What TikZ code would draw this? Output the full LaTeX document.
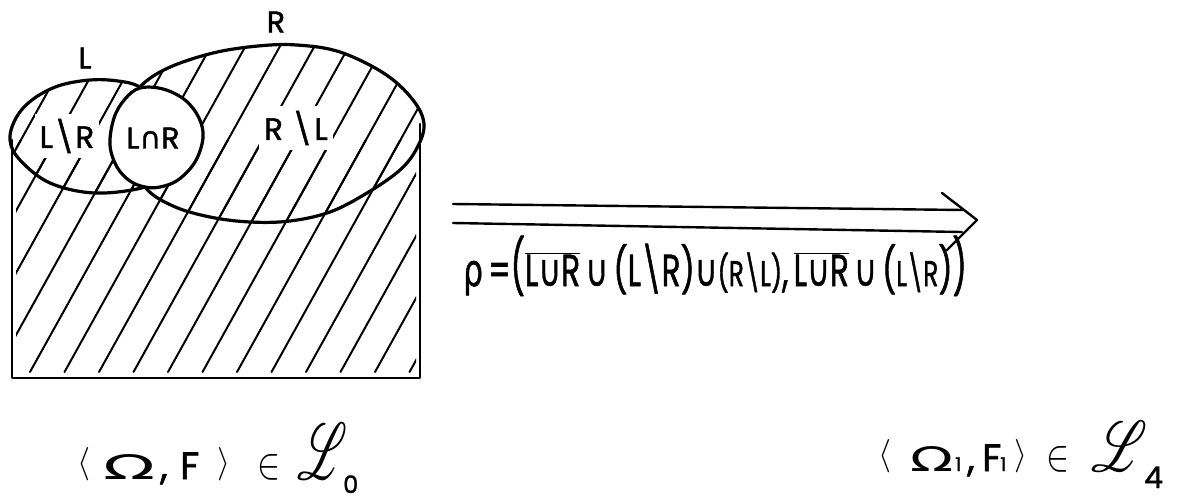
\documentclass[tikz,border=0pt]{standalone}
\usepackage{fontspec}
\usepackage{mathrsfs}
\setmainfont{Poppins}[FakeBold=1.5]
\newfontfamily\symfont{DejaVu Sans}[FakeBold=1]
\newfontfamily\omegafont{DejaVu Sans}
\newcommand\Lpathspec{plot coordinates {(140,87) (172,108) (178,140) (165,172) (145,187) (95,193) (50,183) (20,160) (10,140) (16,118) (32,100) (58,86) (90,80) (118,81)}}
\newcommand\Rpathspec{plot coordinates {(140,87) (168,68) (213,53) (258,46) (297,45) (340,52) (385,74) (413,100) (424,124) (417,148) (400,170) (367,193) (330,212) (290,221) (250,222) (210,217) (173,206) (145,187) (128,150) (128,112)}}
\newcommand\Bpathspec{plot coordinates {(140,88) (163,89) (185,100) (199,118) (203,138) (195,162) (178,180) (160,187) (145,187) (130,181) (117,167) (110,145) (114,118) (125,99)}}
\newcommand\hatchset{\foreach \k in {-6,...,12} \draw[hatchline] ({30+34.5*\k},372) -- ++(190,-342);}
\newcommand\angL{\raisebox{7pt}{\resizebox{13pt}{25pt}{$\langle$}}}
\newcommand\angR{\raisebox{7pt}{\resizebox{13pt}{25pt}{$\rangle$}}}
\newcommand\elem{\raisebox{1pt}{\resizebox{23pt}{24pt}{$\in$}}}
\newcommand\scrL[2]{\resizebox{#1}{#2}{$\mathscr{L}$}}
\newcommand\pc[2]{\makebox[#1][l]{#2}}
\begin{document}
\begin{tikzpicture}[x=1pt,y=-1pt,smooth cycle,tension=0.6,
  outline/.style={line width=3.2pt,line join=round,line cap=round},
  hatchline/.style={line width=2pt,line cap=round},
  boxline/.style={line width=2.6pt,line join=round,line cap=round},
  arrowline/.style={line width=2.4pt,line cap=round,line join=round},
  setlabel/.style={font=\fontsize{30}{30}\selectfont,inner sep=1pt},
  gaplabel/.style={setlabel,fill=white,inner sep=5pt},
  exprtext/.style={font=\fontsize{38}{38}\selectfont,inner sep=0pt}
]
\useasboundingbox (0,0) rectangle (1177,501);
\fill[white] (0,0) rectangle (1177,501);
% hatching in rect, L and R
\begin{scope}
  \clip (16,140) rectangle (416,372);
  \hatchset
\end{scope}
\begin{scope}
  \clip \Lpathspec;
  \hatchset
\end{scope}
\begin{scope}
  \clip \Rpathspec;
  \hatchset
\end{scope}
% outlines of L and R
\draw[outline] \Lpathspec;
\draw[outline] \Rpathspec;
% the intersection blob covers what lies inside it
\fill[white] \Bpathspec;
\draw[outline] \Bpathspec;
\coordinate (rtl) at (12,140);
\coordinate (rbl) at (12,378);
\coordinate (rbr) at (420,378);
\coordinate (rtr) at (420,124);
\draw[boxline] (rtl) -- (rbl) -- (rbr) -- (rtr);
% labels
\node[setlabel] (labL) at (85,58) {L};
\node[setlabel] (labR) at (276,22) {R};
\node[gaplabel,font=\fontsize{31}{31}\selectfont] (labLminusR) at (67,136) {L\hspace{1pt}\textbackslash\hspace{1pt}R};
\node[setlabel,font=\fontsize{30}{30}\selectfont] (labLcapR) at (153,138) {L{\symfont ∩}R};
\node[gaplabel,font=\fontsize{31}{31}\selectfont] (labRminusL) at (296,128) {R\hspace{9pt}\textbackslash\hspace{2pt}L};
% arrow
\coordinate (a1s) at (453,204);
\coordinate (a1e) at (963,210);
\coordinate (a2s) at (453,223);
\coordinate (a2e) at (962,232);
\coordinate (chA) at (942,193);
\coordinate (tip) at (977,220);
\coordinate (chB) at (947,250);
\draw[arrowline] (a1s) -- (a1e);
\draw[arrowline] (a2s) -- (a2e);
\draw[arrowline] (chA) -- (tip) -- (chB);
% formula
\node[exprtext,anchor=base west] (rho) at (463,286) {\fontsize{39}{39}\selectfont\scalebox{0.8}[1.15]{{\symfont ρ}\,=\scalebox{1}[1.2]{(}$\overline{\hbox{L{\symfont ∪}R}}$\,{\symfont ∪}\,(L\textbackslash R){\symfont ∪}{\fontsize{31}{31}\selectfont(R\textbackslash L)},\,$\overline{\hbox{L{\symfont ∪}R}}$\,{\symfont ∪}\,({\fontsize{31}{31}\selectfont L\textbackslash R})\scalebox{1}[1.2]{)}}};
% bottom expressions
\node[exprtext,anchor=base west] (lhs) at (77,479) {\pc{26pt}{\angL}\pc{57pt}{\resizebox{52pt}{25pt}{\omegafont Ω}}\pc{20pt}{,}\pc{37pt}{F}\pc{40pt}{\angR}\pc{40pt}{\elem}\pc{46pt}{\scrL{50pt}{56pt}}\raisebox{-14pt}{\fontsize{24}{24}\selectfont 0}};
\node[exprtext,anchor=base west] (rhs) at (878,471) {\pc{32pt}{\angL}\pc{45pt}{\resizebox{43pt}{25pt}{\omegafont Ω}}\pc{12pt}{\fontsize{19}{19}\selectfont 1}\pc{15pt}{,}\pc{18pt}{F}\pc{14pt}{\fontsize{19}{19}\selectfont 1}\pc{32pt}{\angR}\pc{45pt}{\elem}\pc{53pt}{\scrL{56pt}{50pt}}\raisebox{-17pt}{\fontsize{30}{30}\selectfont 4}};
\end{tikzpicture}
\end{document}
